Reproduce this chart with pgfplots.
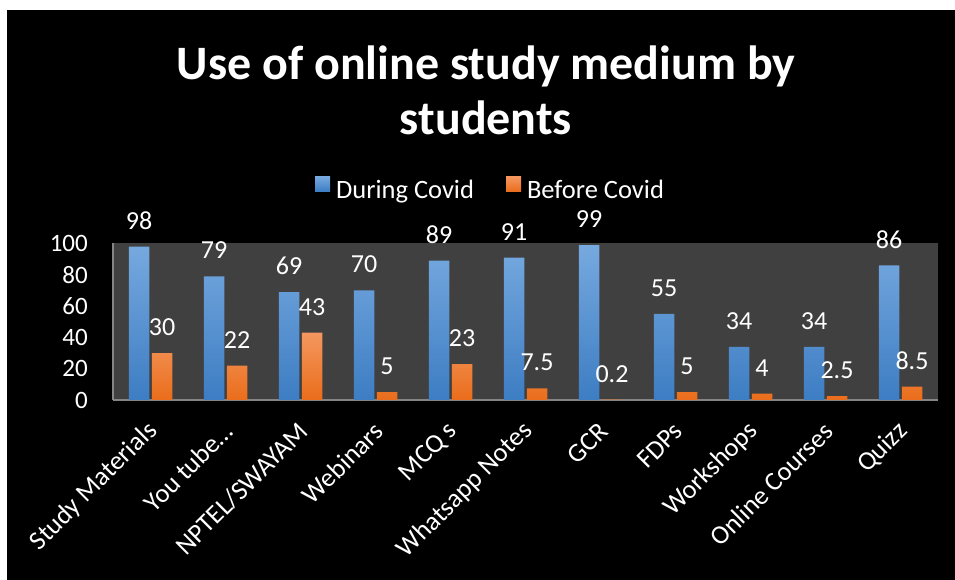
\documentclass[border=0pt]{standalone}
\usepackage{pgfplots}
\pgfplotsset{compat=1.18}
\usepackage{fontspec}
\setmainfont{Carlito}
\definecolor{plotbg}{HTML}{404040}
\definecolor{axgray}{HTML}{858585}
\definecolor{bluetop}{HTML}{76A9DF}
\definecolor{bluebot}{HTML}{3D7DC3}
\definecolor{orgtop}{HTML}{F4975F}
\definecolor{orgbot}{HTML}{EA6D1B}
\begin{document}
\begin{tikzpicture}
\fill[white] (0pt,0pt) rectangle (955pt,580pt);
\path[use as bounding box] (0pt,0pt) rectangle (955pt,580pt);
\fill[black] (7pt,0pt) rectangle (955pt,570pt);
\node[text=white, font=\fontsize{48}{56}\selectfont\bfseries, anchor=base] at (486pt,500pt) {Use of online study medium by};
\node[text=white, font=\fontsize{48}{56}\selectfont\bfseries, anchor=base] at (486pt,445pt) {students};
\begin{axis}[
  at={(113pt,180pt)}, anchor=south west,
  scale only axis, width=825pt, height=156.5pt,
  xmin=-0.5, xmax=10.5, ymin=0, ymax=100,
  xtick={0,...,10},
  xticklabels={Study Materials, You tube\ldots, NPTEL/SWAYAM, Webinars, MCQ s, Whatsapp Notes, GCR, FDPs, Workshops, Online Courses, Quizz},
  ytick={0,20,...,100},
  major tick length=0pt,
  axis background/.style={fill=plotbg},
  axis x line=bottom, axis y line=left,
  axis line style={-, draw=axgray, line width=1.5pt},
  /pgf/number format/assume math mode=true,
  tick label style={text=white, font=\fontsize{25}{30}\selectfont},
  yticklabel style={anchor=east, inner sep=0pt, xshift=-25pt},
  xticklabel style={font=\fontsize{26.5}{30}\selectfont, yshift=-27pt, xshift=3pt, rotate=45, anchor=east, inner sep=0pt},
  nodes near coords,
  every node near coord/.append style={text=white, font=\fontsize{26}{30}\selectfont, anchor=center, yshift=26pt},
  legend style={at={(0.4576,1.345)}, anchor=center, draw=none, fill=none, text=white,
    font=\fontsize{26.5}{30}\selectfont, legend columns=2,
    /tikz/every even column/.append style={column sep=30pt}},
  legend image code/.code={\fill[#1] (0pt,-1pt) rectangle (15pt,14pt); \path (0pt,0pt) -- (19pt,0pt);},
]
\addplot[ybar, bar width=20.5pt, bar shift=-11.5pt, draw=none, top color=bluetop, bottom color=bluebot,
  every node near coord/.append style={xshift=-11.5pt}]
  coordinates {(0,98) (1,79) (2,69) (3,70) (4,89) (5,91) (6,99) (7,55) (8,34) (9,34) (10,86)};
\addlegendentry{During Covid}
\addplot[ybar, bar width=20.5pt, bar shift=11.5pt, draw=none, top color=orgtop, bottom color=orgbot,
  every node near coord/.append style={xshift=11.5pt}]
  coordinates {(0,30) (1,22) (2,43) (3,5) (4,23) (5,7.5) (6,0.2) (7,5) (8,4) (9,2.5) (10,8.5)};
\addlegendentry{Before Covid}
\end{axis}
\end{tikzpicture}
\end{document}
